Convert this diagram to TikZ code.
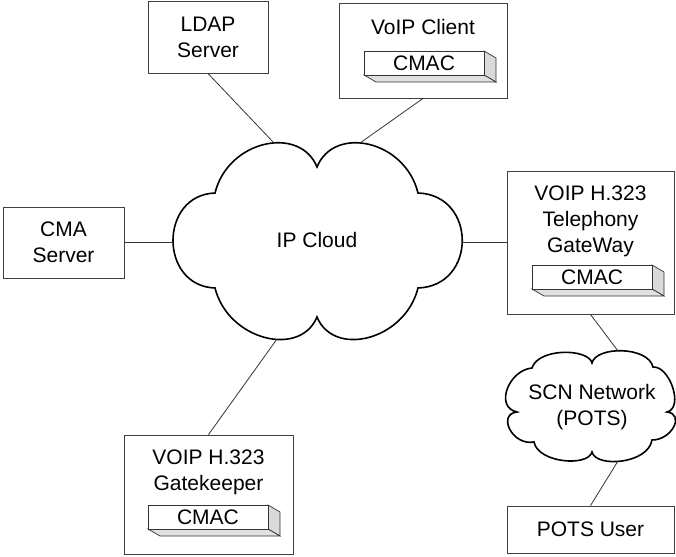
\documentclass[tikz,border=0pt]{standalone}
\usepackage{fontspec}
\setmainfont{Liberation Sans}
\tikzset{
	devbox/.style={draw=black!75, line width=0.9pt, inner sep=0pt, align=center},
	cloudline/.style={draw=black, line width=1.6pt},
	link/.style={draw=black!80, line width=0.8pt},
	lbl/.style={align=center, inner sep=0pt},
	cmac/.pic={
		\filldraw[fill=black!15, draw=black!80, line width=0.7pt] (60,-12) -- (72,-5) -- (72,19) -- (60,12) -- cycle;
		\filldraw[fill=black!12, draw=black!80, line width=0.7pt] (-60,12) -- (-48,19) -- (72,19) -- (60,12) -- cycle;
		\node[draw=black!80, line width=0.7pt, fill=white, minimum width=120pt, minimum height=24pt, inner sep=0pt] {CMAC};
	}
}
\begin{document}
\begin{tikzpicture}[x=1pt, y=-1pt, every node/.style={font=\fontsize{21}{26}\selectfont}]
	\useasboundingbox (0,0) rectangle (676,556);
	% IP cloud
	\draw[cloudline] (317,167) .. controls (300,125) and (228,140) .. (215,193)
		.. controls (159,195) and (159,286) .. (215,288)
		.. controls (228,340) and (300,358) .. (317,317)
		.. controls (334,358) and (405,340) .. (418,288)
		.. controls (477,286) and (477,195) .. (418,193)
		.. controls (405,140) and (334,125) .. cycle;
	\node[lbl] (ipcloud) at (317,240) {IP Cloud};
	\coordinate (ip-nw) at (274,143);
	\coordinate (ip-ne) at (360,143);
	\coordinate (ip-w) at (173,242.5);
	\coordinate (ip-e) at (462,242.5);
	\coordinate (ip-s) at (277,339);
	% SCN cloud
	\draw[cloudline] (592,363) .. controls (588,348) and (538,348) .. (532,368)
		.. controls (509,370) and (494,407) .. (517,412)
		.. controls (497,414) and (512,446) .. (534,442)
		.. controls (538,463) and (588,467) .. (592,452)
		.. controls (596,468) and (648,464) .. (652,440)
		.. controls (672,440) and (685,414) .. (667,412)
		.. controls (684,408) and (670,366) .. (653,367)
		.. controls (648,346) and (596,346) .. cycle;
	\node[lbl] (scn) at (592,407) {SCN Network\\(POTS)};
	\coordinate (scn-n) at (618,351);
	\coordinate (scn-s) at (618,461);
	% boxes
	\node[devbox, minimum width=120pt, minimum height=72pt] (ldap) at (208,37) {LDAP\\Server};
	\node[devbox, minimum width=168pt, minimum height=95pt] (voip) at (423,50.5) {};
	\node[lbl] (voiptxt) at (423,27) {VoIP Client};
	\pic at (424,63) {cmac};
	\node[devbox, minimum width=121pt, minimum height=71pt] (cma) at (63.5,242.5) {CMA\\Server};
	\node[devbox, minimum width=167pt, minimum height=143pt] (gw) at (590.5,242.5) {};
	\node[lbl] (gwtxt) at (590.5,221) {VOIP H.323\\Telephony\\GateWay};
	\pic at (592,277) {cmac};
	\node[devbox, minimum width=169pt, minimum height=119pt] (gk) at (208.5,494.5) {};
	\node[lbl] (gktxt) at (208.5,472) {VOIP H.323\\Gatekeeper};
	\pic at (208,517) {cmac};
	\node[devbox, minimum width=167pt, minimum height=47pt] (pots) at (590.5,529.5) {POTS User};
	% links
	\draw[link] (ldap.south) -- (ip-nw);
	\draw[link] (voip.south) -- (ip-ne);
	\draw[link] (cma.east) -- (ip-w);
	\draw[link] (gw.west) -- (ip-e);
	\draw[link] (gk.north) -- (ip-s);
	\draw[link] (gw.south) -- (scn-n);
	\draw[link] (scn-s) -- (pots.north);
\end{tikzpicture}
\end{document}
